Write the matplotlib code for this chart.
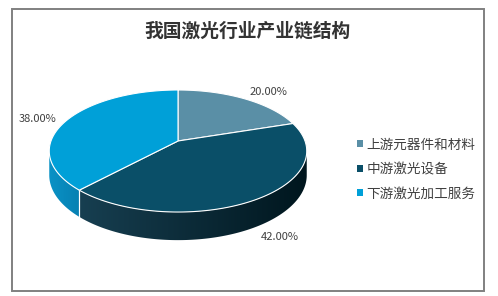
import numpy as np
import matplotlib
matplotlib.use("Agg")
import matplotlib.pyplot as plt
from matplotlib.patches import Polygon, Rectangle, Patch
import matplotlib.colors as mcolors

plt.rcParams['font.family'] = ['Noto Sans CJK SC', 'DejaVu Sans']

title = "我国激光行业产业链结构"
categories = ["上游元器件和材料", "中游激光设备", "下游激光加工服务"]
values = [20.00, 42.00, 38.00]
top_colors = ["#5a8fa6", "#0a4f68", "#00a0d8"]
side_left = ["#4a7a90", "#173f51", "#0a92c6"]
side_right = ["#2c4e5e", "#00161e", "#0680b2"]

W, H = 498, 296
fig = plt.figure(figsize=(W / 100, H / 100), dpi=100)
ax = fig.add_axes([0, 0, 1, 1])
ax.set_xlim(0, W)
ax.set_ylim(H, 0)
ax.axis('off')

# frame
ax.add_patch(Rectangle((11.5, 8.5), 472.5, 282, fill=False, edgecolor="#808080", lw=1.4))

ax.text(248, 31, title, ha='center', va='center', fontsize=13.5, fontweight='bold', color="#333333")

# perspective projection of a tilted disc
cx, A = 178, 127
p, q, r = 36.25, 141.0, -0.164
depth = 23.5

def pt(t_deg, bottom=False):
    t = np.radians(t_deg)
    u, v = np.sin(t), -np.cos(t)
    den = r * v + 1
    x = cx + A * u / den
    y = (p * v + q) / den
    if bottom:
        y = y + depth / den
    return x, y

total = sum(values)
bounds = np.concatenate([[0], np.cumsum(values) / total * 360])

# silhouette angles
tt = np.linspace(0, 360, 3601)
xx, _ = pt(tt)
t_right = tt[np.argmax(xx)]
t_left = tt[np.argmin(xx)]

# side walls
for i in range(len(values)):
    t0, t1 = max(bounds[i], t_right), min(bounds[i + 1], t_left)
    if t1 <= t0:
        continue
    ts = np.linspace(t0, t1, 200)
    xt, yt = pt(ts)
    xb, yb = pt(ts, bottom=True)
    verts = list(zip(xt, yt)) + list(zip(xb[::-1], yb[::-1]))
    poly = Polygon(verts, closed=True, facecolor='none', edgecolor='none')
    ax.add_patch(poly)
    cL = np.array(mcolors.to_rgb(side_left[i]))
    cR = np.array(mcolors.to_rgb(side_right[i]))
    xs0, xs1 = min(xt.min(), xb.min()), max(xt.max(), xb.max())
    f = np.linspace(0, 1, 256)[None, :, None]
    img = cL[None, None, :] * (1 - f) + cR[None, None, :] * f
    im = ax.imshow(img, extent=[xs0, xs1, yb.max() + 1, yt.min() - 1], aspect='auto',
                   interpolation='bilinear', zorder=1)
    im.set_clip_path(poly)
    for tb in (bounds[i], bounds[i + 1]):
        if t_right < tb < t_left:
            x0, y0 = pt(tb)
            x1, y1 = pt(tb, bottom=True)
            ax.plot([x0, x1], [y0, y1], color="white", lw=0.8, zorder=2)

# top faces
for i in range(len(values)):
    ts = np.linspace(bounds[i], bounds[i + 1], 200)
    xs, ys = pt(ts)
    verts = [(cx, q)] + list(zip(xs, ys))
    ax.add_patch(Polygon(verts, closed=True, facecolor=top_colors[i], edgecolor="white",
                         lw=0.8, joinstyle='round', zorder=3))

# labels
label_pos = [(268, 92), (280, 237), (38, 119)]
for (x, y), v in zip(label_pos, values):
    ax.text(x, y, f"{v:.2f}%", ha='center', va='center', fontsize=8, color="#404040", zorder=4)

handles = [Patch(facecolor=c, edgecolor='none') for c in top_colors]
leg = fig.legend(handles, categories, loc='center left', bbox_to_anchor=(350 / W, 1 - 169 / H),
                 frameon=False, fontsize=9.8, handlelength=0.42, handleheight=0.42,
                 handletextpad=0.3, labelspacing=0.78, borderpad=0, labelcolor="#404040")

fig.savefig("out.png", dpi=100)
